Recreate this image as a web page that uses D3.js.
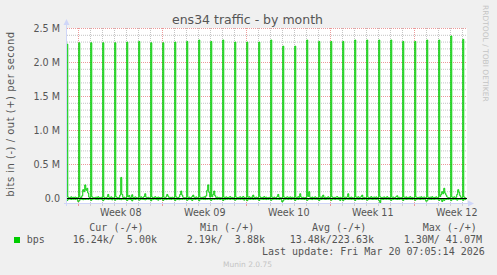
<!DOCTYPE html>
<html>
<head>
<meta charset="utf-8">
<script src="https://d3js.org/d3.v7.min.js"></script>
<style>
body { margin: 0; background: #f0f0f0; }
text { fill: #555; font-family: "DejaVu Sans", sans-serif; }
.mono { font-family: "DejaVu Sans Mono", monospace; font-size: 10px; white-space: pre; }
</style>
</head>
<body>
<svg id="chart" width="497" height="275"></svg>
<script>
// 2h averages, 12 per day, first sample Feb 15 00:00 UTC (kbit/s)
var sampleStart = Date.UTC(2026, 1, 15, 0, 0);
var graphStart = Date.UTC(2026, 1, 15, 1, 30); //munin month view = 800h
var graphEnd = graphStart + 800 * 3600 * 1000;

var outKbps = [
    [12, 2270, 20, 9, 14, 25, 11, 18, 8, 22, 15, 10],
    [14, 2290, 18, 10, 40, 130, 100, 200, 120, 150, 80, 20],
    [9, 2290, 24, 12, 8, 16, 20, 11, 27, 14, 9, 18],
    [15, 2290, 19, 8, 13, 22, 60, 18, 10, 25, 12, 9],
    [11, 2290, 26, 14, 9, 17, 50, 310, 60, 15, 21, 10],
    [13, 2300, 22, 45, 12, 18, 55, 14, 9, 24, 16, 11],
    [10, 2310, 17, 25, 11, 14, 30, 70, 20, 12, 18, 9],
    [12, 2290, 21, 9, 16, 27, 13, 10, 22, 15, 8, 14],
    [11, 2290, 18, 13, 24, 60, 35, 12, 17, 9, 20, 13],
    [9, 2300, 25, 11, 15, 22, 60, 110, 50, 18, 12, 10],
    [14, 2310, 16, 22, 10, 13, 28, 50, 19, 11, 24, 12],
    [10, 2330, 20, 12, 18, 9, 26, 15, 40, 120, 200, 90],
    [20, 2310, 25, 60, 110, 40, 14, 22, 10, 17, 12, 9],
    [13, 2330, 18, 10, 24, 15, 9, 20, 28, 12, 16, 11],
    [10, 2300, 22, 14, 9, 18, 25, 11, 15, 30, 13, 9],
    [12, 2300, 17, 26, 11, 20, 13, 50, 18, 10, 22, 14],
    [11, 2300, 24, 9, 16, 12, 28, 14, 20, 11, 9, 17],
    [13, 2330, 19, 12, 22, 10, 15, 26, 60, 18, 12, 10],
    [9, 2240, 21, 14, 11, 25, 17, 10, 24, 13, 19, 12],
    [14, 2240, 16, 10, 27, 13, 70, 22, 11, 18, 9, 15],
    [10, 2330, 30, 100, 18, 12, 22, 9, 16, 25, 13, 11],
    [12, 2310, 18, 23, 10, 50, 15, 20, 12, 9, 26, 14],
    [11, 2310, 24, 13, 17, 9, 21, 28, 14, 11, 18, 10],
    [13, 2310, 16, 20, 11, 24, 70, 15, 10, 22, 13, 9],
    [10, 2330, 22, 12, 26, 14, 18, 25, 50, 12, 17, 11],
    [12, 2330, 19, 9, 15, 28, 11, 17, 22, 10, 24, 13],
    [9, 2330, 25, 14, 12, 18, 23, 10, 16, 27, 12, 10],
    [13, 2330, 17, 22, 10, 15, 26, 40, 13, 19, 11, 14],
    [11, 2310, 20, 12, 24, 9, 17, 14, 28, 12, 16, 10],
    [10, 2310, 23, 15, 11, 20, 13, 26, 10, 18, 22, 12],
    [12, 2330, 18, 10, 21, 14, 27, 11, 16, 9, 25, 13],
    [10, 2330, 28, 60, 100, 70, 150, 80, 50, 22, 15, 12],
    [14, 2390, 20, 12, 25, 16, 18, 60, 130, 90, 40, 15],
    [11, 2340, 22, 9, 5]
];

var inKbps = [
    [8, 30, 12, 6, 9, 14, 7, 11, 5, 13, 9, 6],
    [45, 35, 10, 7, 12, 18, 9, 15, 11, 8, 14, 7],
    [6, 28, 11, 8, 5, 10, 13, 7, 16, 9, 6, 12],
    [9, 32, 14, 6, 10, 8, 15, 11, 7, 12, 20, 8],
    [7, 26, 9, 12, 6, 14, 10, 18, 8, 11, 7, 13],
    [10, 30, 12, 8, 15, 9, 35, 11, 6, 14, 9, 7],
    [8, 25, 16, 7, 11, 13, 8, 20, 12, 6, 10, 9],
    [11, 33, 7, 13, 9, 6, 14, 10, 25, 8, 12, 6],
    [7, 29, 13, 9, 16, 11, 7, 12, 9, 15, 8, 10],
    [9, 31, 10, 14, 7, 18, 12, 8, 13, 6, 11, 9],
    [6, 27, 15, 8, 12, 9, 30, 11, 7, 14, 10, 8],
    [10, 34, 9, 11, 6, 13, 8, 16, 10, 12, 7, 11],
    [8, 28, 12, 7, 14, 10, 9, 13, 6, 11, 15, 7],
    [11, 30, 8, 16, 9, 12, 7, 10, 14, 8, 9, 12],
    [7, 26, 14, 9, 11, 6, 13, 8, 12, 10, 25, 9],
    [9, 32, 11, 8, 13, 10, 7, 15, 9, 12, 8, 10],
    [12, 29, 7, 10, 8, 14, 11, 9, 16, 7, 13, 8],
    [8, 27, 13, 11, 9, 7, 12, 10, 8, 14, 9, 11],
    [50, 35, 9, 12, 7, 11, 14, 8, 10, 13, 7, 9],
    [10, 30, 11, 8, 15, 9, 8, 12, 11, 7, 14, 10],
    [7, 28, 14, 9, 10, 12, 16, 7, 9, 11, 8, 13],
    [11, 31, 8, 13, 9, 7, 10, 14, 12, 8, 10, 7],
    [9, 27, 12, 7, 11, 15, 9, 8, 13, 10, 30, 9],
    [8, 33, 10, 14, 8, 9, 12, 11, 7, 13, 9, 12],
    [12, 29, 9, 8, 13, 11, 7, 10, 15, 9, 11, 8],
    [7, 26, 15, 10, 9, 8, 14, 12, 8, 11, 13, 10],
    [10, 32, 60, 9, 12, 14, 8, 9, 11, 7, 10, 12],
    [9, 28, 11, 13, 7, 10, 12, 15, 9, 13, 8, 9],
    [11, 30, 8, 9, 14, 12, 10, 7, 12, 10, 14, 7],
    [8, 27, 13, 11, 9, 7, 15, 10, 8, 12, 9, 11],
    [40, 34, 9, 12, 10, 14, 8, 11, 13, 9, 7, 10],
    [10, 29, 12, 8, 45, 11, 30, 9, 14, 10, 12, 8],
    [9, 31, 10, 13, 8, 12, 9, 25, 11, 8, 13, 9],
    [12, 28, 7, 16, 9]
];

var yTicks = [0, 0.5e6, 1e6, 1.5e6, 2e6, 2.5e6];
var yTickLabels = ["0.0", "0.5 M", "1.0 M", "1.5 M", "2.0 M", "2.5 M"];
var weekStarts = [Date.UTC(2026, 1, 16), Date.UTC(2026, 1, 23), Date.UTC(2026, 2, 2), Date.UTC(2026, 2, 9), Date.UTC(2026, 2, 16)];
var weekLabels = ["Week 08", "Week 09", "Week 10", "Week 11", "Week 12"];

var legendHeads = ["Cur (-/+)", "Min (-/+)", "Avg (-/+)", "Max (-/+)"];
var legendValues = ["16.24k/  5.00k", " 2.19k/  3.88k", "13.48k/223.63k", " 1.30M/ 41.07M"];

var green = "#00cc00";
var axisColor = "#cfd6f8";

// flatten day rows into (time, value) points
function toPoints(rows, sign) {
    var pts = [];
    rows.forEach(function (row, d) {
        row.forEach(function (v, s) {
            pts.push({ t: sampleStart + (d * 12 + s) * 7200 * 1000, v: sign * v * 1000 });
        });
    });
    return pts;
}
var outPoints = toPoints(outKbps, 1);
var inPoints = toPoints(inKbps, -1);

var svg = d3.select("#chart");

var x = d3.scaleUtc().domain([graphStart, graphEnd]).range([67, 467]);
var y = d3.scaleLinear().domain([-73500, 2.5e6]).range([203.5, 28.5]);

// canvas
svg.append("rect")
    .attr("x", 67).attr("y", 28)
    .attr("width", 400).attr("height", 175.5)
    .attr("fill", "#fff");

// minor grid
var days = d3.utcDay.range(graphStart, graphEnd);
svg.append("g").selectAll("line")
    .data(days.filter(d => d3.utcMonday.floor(d).getTime() !== d.getTime()))
    .enter().append("line")
    .attr("x1", d => Math.floor(x(d)) + 0.5).attr("x2", d => Math.floor(x(d)) + 0.5)
    .attr("y1", 28).attr("y2", 203)
    .attr("stroke", "#c4c4c4").attr("stroke-dasharray", "1,1");

var minorY = d3.range(1, 25).filter(i => i % 5 !== 0).map(i => i * 1e5);
svg.append("g").selectAll("line")
    .data(minorY)
    .enter().append("line")
    .attr("x1", 67).attr("x2", 467)
    .attr("y1", d => y(d)).attr("y2", d => y(d))
    .attr("stroke", "#c4c4c4").attr("stroke-dasharray", "1,1");

// major grid
svg.append("g").selectAll("line")
    .data(weekStarts)
    .enter().append("line")
    .attr("x1", d => Math.floor(x(d)) + 0.5).attr("x2", d => Math.floor(x(d)) + 0.5)
    .attr("y1", 28).attr("y2", 203)
    .attr("stroke", "#eb9a9a").attr("stroke-dasharray", "1,1");

svg.append("g").selectAll("line")
    .data(yTicks)
    .enter().append("line")
    .attr("x1", 67).attr("x2", 467)
    .attr("y1", d => y(d)).attr("y2", d => y(d))
    .attr("stroke", "#eb9a9a").attr("stroke-dasharray", "1,1");

// data lines, drawn as steps like rrdtool does
svg.append("clipPath").attr("id", "plotclip")
    .append("rect").attr("x", 67).attr("y", 20).attr("width", 400).attr("height", 183.5);

var line = d3.line().x(d => x(d.t)).y(d => y(d.v)).curve(d3.curveStep);
var plot = svg.append("g").attr("clip-path", "url(#plotclip)");
plot.append("path").datum(inPoints)
    .attr("d", line).attr("fill", "none")
    .attr("stroke", green).attr("stroke-width", 1);
plot.append("path").datum(outPoints)
    .attr("d", line).attr("fill", "none")
    .attr("stroke", green).attr("stroke-width", 1);

// zero line
svg.append("line")
    .attr("x1", 67).attr("x2", 467)
    .attr("y1", y(0)).attr("y2", y(0))
    .attr("stroke", "#000").attr("stroke-width", 1);

// axes lines + arrows
svg.append("line").attr("x1", 64).attr("x2", 469).attr("y1", 203.5).attr("y2", 203.5).attr("stroke", axisColor);
svg.append("path").attr("d", "M468,200.5 L474,203.5 L468,206.5 Z").attr("fill", axisColor);
svg.append("line").attr("x1", 66.5).attr("x2", 66.5).attr("y1", 206).attr("y2", 24).attr("stroke", axisColor);
svg.append("path").attr("d", "M63.5,25 L66.5,19 L69.5,25 Z").attr("fill", axisColor);

// x ticks below the axis
svg.append("g").selectAll("line")
    .data(days)
    .enter().append("line")
    .attr("x1", d => Math.floor(x(d)) + 0.5).attr("x2", d => Math.floor(x(d)) + 0.5)
    .attr("y1", 204).attr("y2", 206)
    .attr("stroke", d => weekStarts.indexOf(d.getTime()) >= 0 ? "#eb9a9a" : "#d0d0d0");

// y tick labels
var yAxis = svg.append("g")
    .attr("transform", "translate(67,0)")
    .call(d3.axisLeft(y).tickValues(yTicks).tickFormat((d, i) => yTickLabels[i]).tickSize(0).tickPadding(7));
yAxis.select(".domain").remove();
yAxis.selectAll("text").style("font-size", "9.6px").style("font-family", "DejaVu Sans").attr("fill", "#555");

// week labels, centred in the week
var xAxis = svg.append("g")
    .attr("transform", "translate(0,203.5)")
    .call(d3.axisBottom(x)
        .tickValues(weekStarts.map(d => d + 3.5 * 86400000))
        .tickFormat((d, i) => weekLabels[i])
        .tickSize(0).tickPadding(5.7));
xAxis.select(".domain").remove();
xAxis.selectAll("text").style("font-size", "9.6px").style("font-family", "DejaVu Sans").attr("fill", "#555");

// title
svg.append("text")
    .attr("x", 247.5).attr("y", 23.5)
    .attr("text-anchor", "middle")
    .style("font-size", "12.5px")
    .text("ens34 traffic - by month");

// vertical axis title
svg.append("text")
    .attr("transform", "translate(14,114) rotate(-90)")
    .attr("text-anchor", "middle")
    .style("font-size", "10px")
    .style("letter-spacing", "0.5px")
    .text("bits in (-) / out (+) per second");

// watermark
svg.append("text")
    .attr("transform", "translate(483,5) rotate(90)")
    .style("font-size", "7.5px")
    .style("fill", "#c4c4c4")
    .text("RRDTOOL / TOBI OETIKER");

// legend
var headX = [89.3, 200, 312, 422.7];
var valX = [72.7, 180.7, 289.7, 397.7];

svg.append("g").selectAll("text")
    .data(legendHeads)
    .enter().append("text")
    .attr("class", "mono")
    .attr("x", (d, i) => headX[i]).attr("y", 230.5)
    .text(d => d);

svg.append("rect")
    .attr("x", 14).attr("y", 237)
    .attr("width", 6).attr("height", 6)
    .attr("fill", green);
svg.append("text")
    .attr("class", "mono")
    .attr("x", 26.7).attr("y", 243.3)
    .text("bps");

svg.append("g").selectAll("text")
    .data(legendValues)
    .enter().append("text")
    .attr("class", "mono")
    .attr("x", (d, i) => valX[i]).attr("y", 243.3)
    .text(d => d);

svg.append("text")
    .attr("class", "mono")
    .attr("x", 262).attr("y", 255)
    .text("Last update: Fri Mar 20 07:05:14 2026");

svg.append("text")
    .attr("x", 247.5).attr("y", 266.5)
    .attr("text-anchor", "middle")
    .style("font-size", "7.5px")
    .style("fill", "#c4c4c4")
    .text("Munin 2.0.75");
</script>
</body>
</html>
